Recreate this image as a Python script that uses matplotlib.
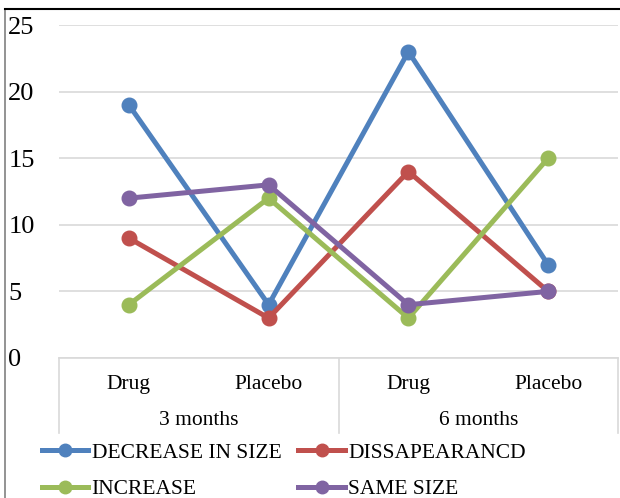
import matplotlib
matplotlib.use("Agg")
import matplotlib.pyplot as plt
from matplotlib.lines import Line2D

plt.rcParams['font.family'] = ['Liberation Serif', 'DejaVu Serif']

categories = ["Drug", "Placebo", "Drug", "Placebo"]
groups = ["3 months", "6 months"]
series_names = ["DECREASE IN SIZE", "DISSAPEARANCD", "INCREASE", "SAME SIZE"]
decrease = [19, 4, 23, 7]
disappear = [9, 3, 14, 5]
increase = [4, 12, 3, 15]
same = [12, 13, 4, 5]
colors = ["#4F81BD", "#C0504D", "#9BBB59", "#8064A2"]
yticks = [0, 5, 10, 15, 20, 25]

W, H = 620, 498
fig = plt.figure(figsize=(W / 100, H / 100), dpi=100)

def fx(px):
    return px / W

def fy(py):
    return 1 - py / H

ax = fig.add_axes([fx(59), fy(358), fx(618) - fx(59), fy(25) - fy(358)])
x = list(range(len(categories)))
for vals, c in zip([decrease, disappear, increase, same], colors):
    ax.plot(x, vals, color=c, lw=3.6, marker='o', ms=10.5, solid_capstyle='round', zorder=3)

ax.set_xlim(-0.5, 3.5)
ax.set_ylim(0, 25)
ax.set_yticks(yticks)
ax.set_yticklabels([str(v) for v in yticks], fontsize=19)
ax.tick_params(axis='y', length=0, pad=36.5)
for lab in ax.get_yticklabels():
    lab.set_horizontalalignment('left')
ax.set_xticks([])
ax.grid(axis='y', color='#D9D9D9', lw=1.2)
ax.set_axisbelow(True)
for s in ['top', 'right', 'left']:
    ax.spines[s].set_visible(False)
ax.spines['bottom'].set_color('#D9D9D9')
ax.spines['bottom'].set_linewidth(1.2)

# category axis drawing
trans = ax.get_xaxis_transform()
span = fy(25) - fy(358)
ybot = (fy(433) - fy(358)) / span
for xv in [-0.5, 1.5, 3.5]:
    ax.add_line(Line2D([xv, xv], [0, ybot], transform=trans, color='#D9D9D9', lw=1.2, clip_on=False))
ycat = (fy(384) - fy(358)) / span
for xi, lab in zip(x, categories):
    ax.text(xi, ycat, lab, transform=trans, ha='center', va='center', fontsize=15.5)
ygrp = (fy(420) - fy(358)) / span
for gi, g in enumerate(groups):
    ax.text(gi * 2 + 0.5, ygrp, g, transform=trans, ha='center', va='center', fontsize=15.5)

# legend (row-wise order: ncol=2 fills column-wise)
series_colors = dict(zip(series_names, colors))
order = [series_names[0], series_names[2], series_names[1], series_names[3]]
handles = [Line2D([], [], color=series_colors[n], lw=3.6, marker='o', ms=9) for n in order]
leg = fig.legend(handles, order, ncol=2, loc='center left',
                 bbox_to_anchor=(fx(42), fy(471)), frameon=False, fontsize=15.5,
                 handlelength=2.15, handletextpad=0.15, columnspacing=0.8,
                 labelspacing=0.75, borderaxespad=0, borderpad=0)

# figure border
fig.add_artist(Line2D([fx(4.5), fx(4.5)], [0, fy(9.5)], color='#808080', lw=1.2))
fig.add_artist(Line2D([fx(4.5), 1], [fy(9.5), fy(9.5)], color='black', lw=1.5))

fig.savefig("out.png", dpi=100)
